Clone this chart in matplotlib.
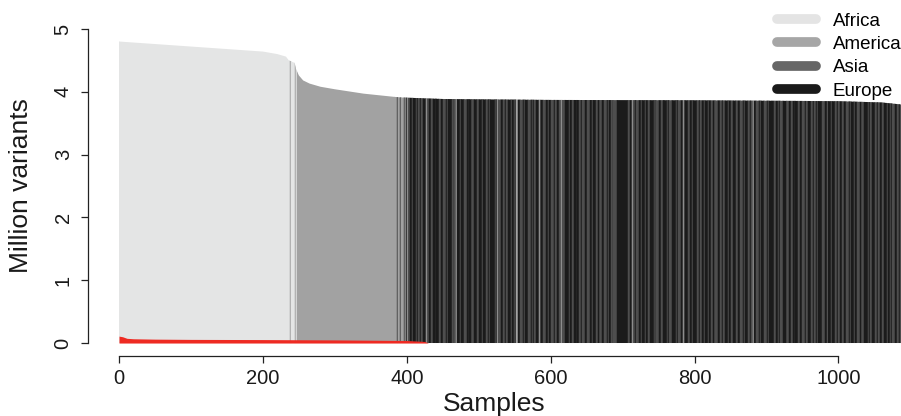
import matplotlib
matplotlib.use('Agg')
import matplotlib.pyplot as plt
from matplotlib.patches import Polygon
from matplotlib.lines import Line2D
import numpy as np

plt.rcParams['font.family'] = ['Liberation Sans', 'DejaVu Sans']

# continent colours
groups = ['Africa', 'America', 'Asia', 'Europe']
group_colors = {'AF': '#e4e5e5', 'AM': '#a2a2a2', 'AS': '#4e4e4e', 'EU': '#1b1b1b'}
legend_colors = ['#e4e4e4', '#a6a6a6', '#666666', '#1a1a1a']

# samples in sorted order, run-length coded by continent
run_groups = (
    "AF AM AF AM AF AM "
    "AM AS AM AS AM AS AM EU AM AS "
    "EU AS EU AS EU AS EU AS EU AM AS EU AS EU AS EU AS EU AS "
    "EU AS EU AS EU AS AM EU AS EU AS EU AS EU AM AS EU AS EU "
    "AS EU AS EU AS EU AS EU AM AS EU AS EU AS EU AS EU AS EU AM "
    "EU AS EU AS EU AS EU AS EU AS EU AM AS EU AS EU AS EU AS "
    "EU AS EU AS EU AM AS EU AS EU AS EU AS EU AS EU AS EU AS "
    "EU AS EU AS EU AM AS EU AS EU AS EU AS EU AS "
    "EU "
    "AS EU AM AS EU AS EU AS EU AS EU AS EU AS EU AM AS EU AS EU "
    "EU AS EU AS EU AS EU AS EU AM AS EU AS EU AS EU AS EU "
    "AS EU AS EU AS EU AS EU AM AS EU AS EU AS EU AS EU AS EU "
    "AS EU AS EU AS EU AS EU AS AM EU AS EU AS EU AS EU AS EU "
    "EU AS EU AS EU AS EU AM AS EU AS EU AS EU AS EU AS EU AS "
    "EU AS EU AS EU AS EU AS EU AS AM EU AS EU AS EU AS EU AS "
    "EU AS EU AS EU AS EU AS EU AM AS EU AS EU AS EU AS EU AS "
    "EU AS EU AS EU AS EU AS EU AS EU AS"
).split()
run_lengths = [
    237, 2, 6, 1, 2, 136,
    3, 1, 2, 2, 4, 1, 2, 1, 2, 2,
    3, 2, 4, 1, 2, 3, 1, 2, 5, 1, 3, 2, 4, 3, 1, 4, 2, 3, 4,
    2, 1, 6, 2, 1, 3, 1, 4, 2, 3, 5, 2, 1, 3, 1, 2, 5, 3, 3,
    2, 4, 3, 1, 2, 7, 1, 2, 1, 4, 3, 2, 2, 3, 4, 1, 3, 2, 1, 2,
    3, 4, 2, 1, 5, 3, 2, 2, 1, 3, 4, 1, 2, 3, 4, 2, 1, 4, 3,
    2, 3, 3, 2, 1, 1, 4, 5, 2, 2, 3, 4, 1, 3, 2, 2, 4, 3, 3,
    3, 2, 4, 3, 2, 1, 2, 3, 4, 1, 2, 3, 2, 1, 5,
    16,
    2, 3, 1, 3, 2, 4, 3, 1, 4, 2, 2, 3, 5, 2, 1, 1, 3, 4, 2, 2,
    3, 2, 2, 3, 6, 1, 2, 4, 3, 1, 2, 4, 3, 2, 2, 5, 3, 2,
    3, 2, 2, 4, 1, 3, 3, 2, 1, 4, 3, 2, 1, 3, 4, 2, 3, 2, 5,
    2, 3, 4, 2, 1, 4, 3, 2, 2, 1, 3, 4, 2, 1, 5, 3, 2, 2, 4,
    2, 3, 3, 2, 1, 4, 5, 1, 2, 3, 3, 2, 1, 4, 2, 3, 4, 2, 3,
    4, 2, 2, 3, 1, 2, 5, 4, 3, 1, 1, 3, 2, 4, 3, 2, 2, 3, 3,
    3, 3, 2, 1, 4, 2, 3, 4, 2, 1, 3, 5, 2, 1, 3, 4, 2, 2, 3,
    2, 3, 4, 2, 3, 1, 2, 4, 3, 2, 2, 4,
]

# total variants per sample (million), read along the top edge
env_x = [0, 50, 100, 150, 200, 220, 232, 236, 244, 246, 250, 256, 265,
         280, 300, 340, 390, 450, 600, 800, 1000, 1060, 1085, 1092]
env_y = [4.80, 4.76, 4.72, 4.68, 4.64, 4.60, 4.56, 4.50, 4.46, 4.36, 4.26,
         4.18, 4.13, 4.08, 4.04, 3.97, 3.91, 3.885, 3.87, 3.865, 3.85, 3.83,
         3.80, 3.78]

# red band at the bottom
red_x = [0, 5, 11, 20, 50, 100, 200, 300, 400, 414, 425, 430]
red_y = [0.11, 0.10, 0.075, 0.068, 0.062, 0.058, 0.055, 0.05, 0.04, 0.032, 0.025, 0.0]

fig = plt.figure(figsize=(9.01, 4.16), dpi=100)
ax = fig.add_axes([88 / 901, 0.1452, 813 / 901, 0.8154])

starts = np.concatenate([[0], np.cumsum(run_lengths)[:-1]])
xranges = list(zip(starts, run_lengths))
cols = [group_colors[g] for g in run_groups]
bars = ax.broken_barh(xranges, (0, 5.2), facecolors=cols, edgecolors=cols,
                      linewidth=0.35)
verts = [(0, 0)] + list(zip(env_x, env_y)) + [(env_x[-1], 0)]
clip = Polygon(verts, closed=True, transform=ax.transData)
bars.set_clip_path(clip)

ax.fill_between(red_x, 0, red_y, color='#ee2a22', linewidth=0, zorder=3)

ax.set_xlim(-43.1, 1086.9)
ax.set_ylim(-0.2, 5.2)
for s in ['top', 'right']:
    ax.spines[s].set_visible(False)
ax.spines['left'].set_bounds(0, 5)
ax.spines['bottom'].set_bounds(0, 1000)
for s in ['left', 'bottom']:
    ax.spines[s].set_linewidth(0.9)
    ax.spines[s].set_color('#222222')

ax.set_xticks([0, 200, 400, 600, 800, 1000])
ax.set_yticks([0, 1, 2, 3, 4, 5])
ax.tick_params(axis='both', direction='out', length=5, width=0.9,
               color='#222222', labelsize=14.5, labelcolor='#1a1a1a')
ax.tick_params(axis='x', pad=5)
ax.tick_params(axis='y', pad=6, labelrotation=90)
for t in ax.get_yticklabels():
    t.set_va('center')

ax.set_xlabel('Samples', fontsize=19, color='#1a1a1a')
ax.set_ylabel('Million variants', fontsize=19, color='#1a1a1a')
ax.xaxis.set_label_coords(0.5, -0.107)
ax.yaxis.set_label_coords(-0.068, 0.5)

handles = [Line2D([], [], color=c, lw=7, solid_capstyle='round')
           for c in legend_colors]
ax.legend(handles, groups, loc='upper left', frameon=False, fontsize=13.5,
          handlelength=2.1, handletextpad=0.9, labelspacing=0.33,
          borderpad=0, borderaxespad=0,
          bbox_to_anchor=(776.5 / 901, 1 - 12.5 / 416),
          bbox_transform=fig.transFigure)

fig.savefig('out.png', dpi=100)
plt.close(fig)
